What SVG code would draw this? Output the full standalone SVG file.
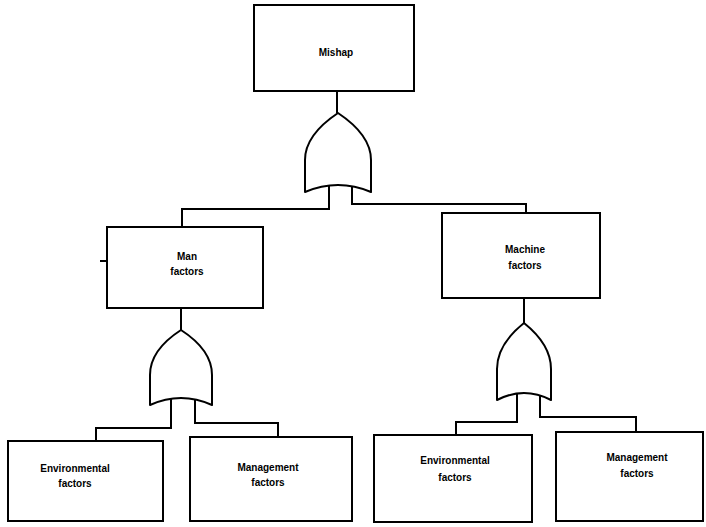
<svg xmlns="http://www.w3.org/2000/svg" width="706" height="527" viewBox="0 0 706 527">
<style>
.box{fill:#fff;stroke:#000;stroke-width:2}
.gate{fill:#fff;stroke:#000;stroke-width:2;stroke-linejoin:round}
.wire{fill:none;stroke:#000;stroke-width:2}
text{font-family:"Liberation Sans",Arial,sans-serif;font-size:10px;fill:#000;text-anchor:middle;font-weight:bold}
</style>
<rect width="706" height="527" fill="#fff"/>
<g id="connectors">
<path class="wire" d="M337,91 V113"/>
<path class="wire" d="M329,186 V209 H182 V227"/>
<path class="wire" d="M352,186 V204 H526 V213"/>
<path class="wire" d="M181,308 V330"/>
<path class="wire" d="M171,398 V428 H96 V441"/>
<path class="wire" d="M195,398 V423 H278 V437"/>
<path class="wire" d="M524,298 V323"/>
<path class="wire" d="M517,393 V422 H456 V435"/>
<path class="wire" d="M540,393 V417 H636 V432"/>
<path class="wire" d="M100,261 H107"/>
</g>
<g id="mishap">
<rect class="box" x="254" y="5" width="160" height="86"/>
<text x="336" y="56">Mishap</text>
</g>
<g id="gate-top">
<path class="gate" d="M338,113 C320,125 305,141 305,160 L305,192 Q338,178 371,192 L371,160 C371,141 356,125 338,113 Z"/>
</g>
<g id="man-factors">
<rect class="box" x="107" y="227" width="156" height="81"/>
<text x="187" y="260">Man</text>
<text x="187" y="275">factors</text>
</g>
<g id="machine-factors">
<rect class="box" x="442" y="213" width="158" height="85"/>
<text x="525" y="253">Machine</text>
<text x="525" y="269">factors</text>
</g>
<g id="gate-man">
<path class="gate" d="M181,330 C164,341 150,356 150,375 L150,405 Q181,391 212,405 L212,375 C212,356 198,341 181,330 Z"/>
</g>
<g id="gate-machine">
<path class="gate" d="M524,323 C509,335 497,350 497,369 L497,400 Q524,386 551,400 L551,369 C551,350 539,335 524,323 Z"/>
</g>
<g id="env-man">
<rect class="box" x="8" y="441" width="155" height="80"/>
<text x="75" y="472">Environmental</text>
<text x="75" y="487">factors</text>
</g>
<g id="mgmt-man">
<rect class="box" x="190" y="437" width="162" height="84"/>
<text x="268" y="471">Management</text>
<text x="268" y="486">factors</text>
</g>
<g id="env-machine">
<rect class="box" x="374" y="435" width="158" height="87"/>
<text x="455" y="464">Environmental</text>
<text x="455" y="481">factors</text>
</g>
<g id="mgmt-machine">
<rect class="box" x="556" y="432" width="147" height="89"/>
<text x="637" y="461">Management</text>
<text x="637" y="477">factors</text>
</g>
</svg>
